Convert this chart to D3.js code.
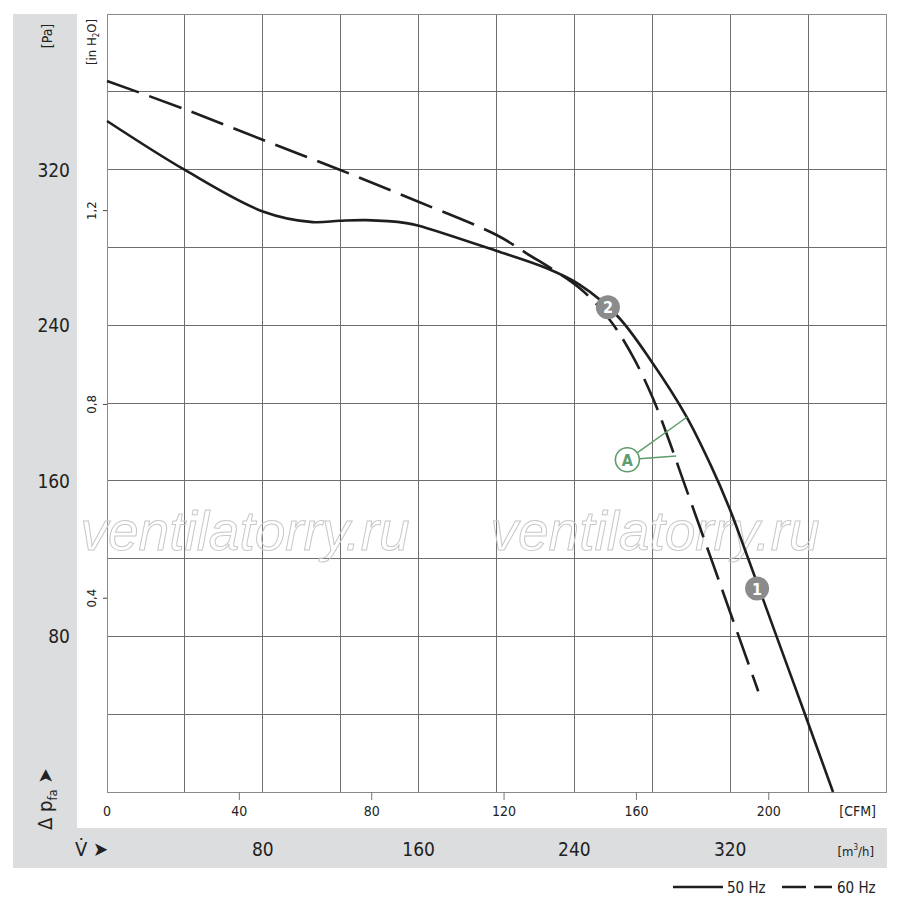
<!DOCTYPE html>
<html>
<head>
<meta charset="utf-8">
<script src="https://cdn.jsdelivr.net/npm/d3@7"></script>
<style>
  body { margin: 0; background: #fff; }
  text { font-family: "DejaVu Sans Condensed", "DejaVu Sans", sans-serif; font-stretch: condensed; fill: #222; }
</style>
</head>
<body>
<svg width="900" height="904"></svg>
<script>
// courbes en m3/h et Pa
const flow50 = [0, 40, 80, 105.6, 119.5, 133.2, 153.7, 159.6, 199.8, 225.5, 242.6, 262.2, 279.5, 297.4, 309.7, 319.5, 327.2, 343.8, 358.2, 372.8];
const pres50 = [345, 319.8, 298.5, 293, 293.7, 294, 292.5, 291.3, 278.3, 269.4, 260.9, 244.6, 221.5, 193.3, 168.7, 146.2, 125.6, 80, 40.5, 0];
const flow60 = [0, 40, 80.2, 119.8, 159.6, 199.8, 215.2, 242.6, 258, 269.9, 280.2, 288.7, 295.4, 303.8, 310.2, 320.2, 334.4];
const pres60 = [365.6, 351, 335.2, 319.8, 303.6, 286.5, 277.1, 259.1, 242.9, 224.1, 202.7, 180.5, 161.5, 137.9, 120, 91.8, 51.8];

const paTicks = [80, 160, 240, 320];
const inTicks = [0.4, 0.8, 1.2];
const cfmTicks = [0, 40, 80, 120, 160, 200];
const m3hTicks = [80, 160, 240, 320];

// points de fonctionnement 1 et 2
const pointsNum = [{n: "1", q: 333.8, p: 104.6}, {n: "2", q: 257.2, p: 249.2}];
// repère A : cercle puis bouts des deux traits
const repereA = {q: 267.2, p: 170.8, cibles: [[297.9, 192.8], [292.3, 172.8]]};

const svg = d3.select("svg");
const x = d3.scaleLinear().domain([0, 400]).range([107, 886]);
const y = d3.scaleLinear().domain([0, 400]).range([792, 14]);
const xCfm = d3.scaleLinear().domain([0, 400 / 1.699]).range([107, 886]);
const yIn = d3.scaleLinear().domain([0, 400 / 249.09]).range([792, 14]);

// bandes grises
svg.append("rect").attr("x", 13).attr("y", 14).attr("width", 64).attr("height", 854).attr("fill", "#dcddde");
svg.append("rect").attr("x", 13).attr("y", 828).attr("width", 874).attr("height", 40).attr("fill", "#dcddde");

// grille
const grille = svg.append("g").attr("stroke", "#6e6e6e").attr("stroke-width", 1).attr("shape-rendering", "crispEdges");
grille.selectAll(".v").data(d3.range(40, 400, 40)).join("line")
  .attr("x1", d => x(d)).attr("x2", d => x(d)).attr("y1", y(0)).attr("y2", y(400));
grille.selectAll(".h").data(d3.range(40, 400, 40)).join("line")
  .attr("y1", d => y(d)).attr("y2", d => y(d)).attr("x1", x(0)).attr("x2", x(400));
svg.append("rect").attr("x", x(0)).attr("y", y(400)).attr("width", x(400) - x(0)).attr("height", y(0) - y(400))
  .attr("fill", "none").attr("stroke", "#8a8a8a").attr("shape-rendering", "crispEdges");

// filigrane
[245, 655].forEach(cx => {
  svg.append("text").attr("x", cx).attr("y", 550).attr("text-anchor", "middle")
    .attr("font-size", 55).attr("font-style", "italic")
    .style("font-family", "'Liberation Sans', Arial, sans-serif").style("font-stretch", "normal")
    .style("fill", "none").attr("stroke", "#c8c8c8").attr("stroke-width", 1)
    .text("ventilatorry.ru");
});

// axe Pa
svg.selectAll(".pa").data(paTicks).join("text")
  .attr("x", 70).attr("y", d => y(d) + 7).attr("text-anchor", "end").attr("font-size", 19).text(d => d);
svg.append("text").attr("transform", "translate(52,36) rotate(-90)").attr("text-anchor", "middle")
  .attr("font-size", 14).text("[Pa]");

// axe in H2O
svg.selectAll(".inT").data(inTicks).join("line")
  .attr("x1", 103).attr("x2", 107).attr("y1", d => yIn(d)).attr("y2", d => yIn(d))
  .attr("stroke", "#444");
svg.selectAll(".inL").data(inTicks).join("text")
  .attr("transform", d => `translate(96,${yIn(d)}) rotate(-90)`).attr("text-anchor", "middle")
  .attr("font-size", 13).text(d => String(d).replace(".", ","));
const h2o = svg.append("text").attr("transform", "translate(96,42) rotate(-90)").attr("text-anchor", "middle")
  .attr("font-size", 13);
h2o.append("tspan").text("[in H");
h2o.append("tspan").attr("font-size", 8).attr("dy", 3).text("2");
h2o.append("tspan").attr("dy", -3).text("O]");

// axe CFM
svg.selectAll(".cfmT").data(cfmTicks.slice(1)).join("line")
  .attr("x1", d => xCfm(d)).attr("x2", d => xCfm(d)).attr("y1", 792).attr("y2", 800)
  .attr("stroke", "#777");
svg.selectAll(".cfmL").data(cfmTicks).join("text")
  .attr("x", d => xCfm(d)).attr("y", 816).attr("text-anchor", "middle").attr("font-size", 14).text(d => d);
svg.append("text").attr("x", 876).attr("y", 816).attr("text-anchor", "end").attr("font-size", 14).text("[CFM]");

// axe m3/h
svg.selectAll(".m3L").data(m3hTicks).join("text")
  .attr("x", d => x(d)).attr("y", 856).attr("text-anchor", "middle").attr("font-size", 19).text(d => d);
const m3 = svg.append("text").attr("x", 874).attr("y", 856).attr("text-anchor", "end").attr("font-size", 13);
m3.append("tspan").text("[m");
m3.append("tspan").attr("font-size", 8).attr("dy", -6).text("3");
m3.append("tspan").attr("dy", 6).text("/h]");

// V point et delta p
svg.append("text").attr("x", 75).attr("y", 856).attr("font-size", 20).text("V̇ ➤");
const dp = svg.append("text").attr("transform", "translate(52,830) rotate(-90)").attr("font-size", 20);
dp.append("tspan").text("Δ p");
dp.append("tspan").attr("font-size", 13).attr("dy", 5).text("fa");
dp.append("tspan").attr("dy", -5).text(" ➤");

// courbes
const ligne = d3.line().x(d => x(d[0])).y(d => y(d[1])).curve(d3.curveCatmullRom.alpha(0.5));
svg.append("path").attr("d", ligne(d3.zip(flow60, pres60)))
  .attr("fill", "none").attr("stroke", "#1e1e1e").attr("stroke-width", 2.6).attr("stroke-dasharray", "34,11");
svg.append("path").attr("d", ligne(d3.zip(flow50, pres50)))
  .attr("fill", "none").attr("stroke", "#1e1e1e").attr("stroke-width", 2.6);

// repère A
const vert = "#5e9c6c";
repereA.cibles.forEach(c => {
  const ang = Math.atan2(y(c[1]) - y(repereA.p), x(c[0]) - x(repereA.q));
  svg.append("line")
    .attr("x1", x(repereA.q) + 12 * Math.cos(ang)).attr("y1", y(repereA.p) + 12 * Math.sin(ang))
    .attr("x2", x(c[0])).attr("y2", y(c[1]))
    .attr("stroke", vert).attr("stroke-width", 1.5);
});
svg.append("circle").attr("cx", x(repereA.q)).attr("cy", y(repereA.p)).attr("r", 12)
  .attr("fill", "#fff").attr("stroke", vert).attr("stroke-width", 1.6);
svg.append("text").attr("x", x(repereA.q)).attr("y", y(repereA.p) + 6).attr("text-anchor", "middle")
  .attr("font-size", 16).attr("font-weight", "bold").style("fill", vert).text("A");

// points numérotés
const pts = svg.selectAll(".pt").data(pointsNum).join("g");
pts.append("circle").attr("cx", d => x(d.q)).attr("cy", d => y(d.p)).attr("r", 12).attr("fill", "#8b8b8b");
pts.append("text").attr("x", d => x(d.q)).attr("y", d => y(d.p) + 6).attr("text-anchor", "middle")
  .attr("font-size", 16).attr("font-weight", "bold").style("fill", "#fff").text(d => d.n);

// légende
svg.append("line").attr("x1", 673).attr("x2", 723).attr("y1", 887).attr("y2", 887).attr("stroke", "#1e1e1e").attr("stroke-width", 2.4);
svg.append("text").attr("x", 727).attr("y", 893).attr("font-size", 15).text("50 Hz");
svg.append("line").attr("x1", 782).attr("x2", 832).attr("y1", 887).attr("y2", 887).attr("stroke", "#1e1e1e").attr("stroke-width", 2.4)
  .attr("stroke-dasharray", "24,8");
svg.append("text").attr("x", 837).attr("y", 893).attr("font-size", 15).text("60 Hz");
</script>
</body>
</html>
